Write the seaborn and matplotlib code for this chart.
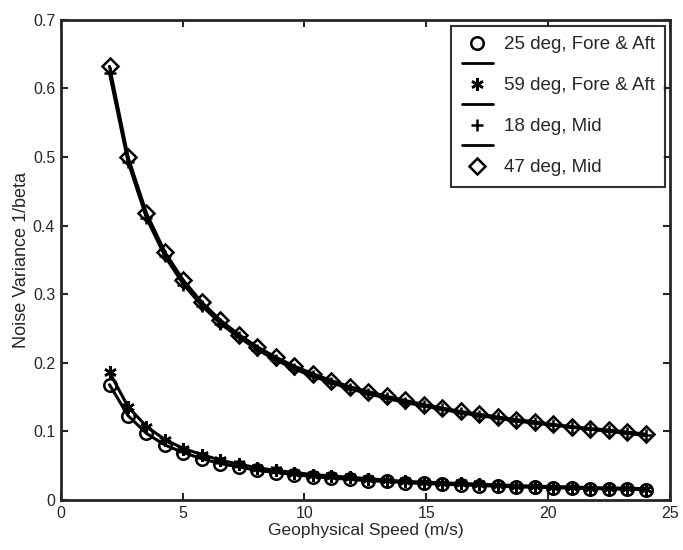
import numpy as np
import pandas as pd
import matplotlib
matplotlib.use("Agg")
import matplotlib.pyplot as plt
from matplotlib.lines import Line2D
import seaborn as sns

# speeds (m/s) where the noise variance was evaluated
speed = [2.000, 2.759, 3.517, 4.276, 5.034, 5.793, 6.552, 7.310, 8.069, 8.828,
         9.586, 10.345, 11.103, 11.862, 12.621, 13.379, 14.138, 14.897, 15.655, 16.414,
         17.172, 17.931, 18.690, 19.448, 20.207, 20.966, 21.724, 22.483, 23.241, 24.000]

fa25 = [0.168, 0.123, 0.097, 0.080, 0.069, 0.060, 0.053, 0.048, 0.043, 0.040,
        0.037, 0.034, 0.032, 0.030, 0.028, 0.027, 0.025, 0.024, 0.023, 0.022,
        0.021, 0.020, 0.019, 0.0185, 0.018, 0.017, 0.0166, 0.016, 0.0156, 0.015]
fa59 = [0.186, 0.136, 0.107, 0.088, 0.075, 0.066, 0.058, 0.052, 0.047, 0.043,
        0.040, 0.037, 0.035, 0.033, 0.031, 0.029, 0.027, 0.026, 0.025, 0.024,
        0.023, 0.022, 0.021, 0.020, 0.0195, 0.019, 0.018, 0.0175, 0.017, 0.0165]
mid18 = [0.622, 0.493, 0.411, 0.355, 0.314, 0.283, 0.257, 0.237, 0.219, 0.204,
         0.191, 0.180, 0.171, 0.162, 0.155, 0.148, 0.142, 0.137, 0.132, 0.127,
         0.123, 0.119, 0.115, 0.112, 0.109, 0.106, 0.103, 0.100, 0.097, 0.094]
mid47 = [0.632, 0.500, 0.418, 0.361, 0.320, 0.288, 0.262, 0.241, 0.223, 0.208,
         0.195, 0.184, 0.174, 0.165, 0.158, 0.151, 0.145, 0.139, 0.134, 0.129,
         0.125, 0.121, 0.117, 0.114, 0.110, 0.107, 0.104, 0.102, 0.099, 0.096]

labels = ["25 deg, Fore & Aft", "59 deg, Fore & Aft", "18 deg, Mid", "47 deg, Mid"]
series = [fa25, fa59, mid18, mid47]
asterisk = (6, 2, 0)
markers = ["o", asterisk, "+", "D"]
msizes = [9, 9, 9, 8]

sns.set_style("ticks")
plt.rcParams['font.family'] = ['Liberation Sans', 'DejaVu Sans']

fig = plt.figure(figsize=(6.83, 5.5), dpi=100)
ax = fig.add_axes([0.089, 0.091, 0.892, 0.873])

for vals, mk, ms in zip(series, markers, msizes):
    df = pd.DataFrame({"speed": speed, "var": vals})
    sns.lineplot(data=df, x="speed", y="var", ax=ax, color="k", lw=2.2,
                 marker=mk, markersize=ms, markerfacecolor="none",
                 markeredgecolor="k", markeredgewidth=1.8)

ax.set_xlim(0, 25)
ax.set_ylim(0, 0.7)
ax.set_xticks([0, 5, 10, 15, 20, 25])
ax.set_yticks(np.arange(0, 0.71, 0.1))
ax.set_yticklabels(["0", "0.1", "0.2", "0.3", "0.4", "0.5", "0.6", "0.7"])
ax.tick_params(direction="in", top=True, right=True, length=5, width=1.5,
               labelsize=11.5, pad=4)
for s in ax.spines.values():
    s.set_linewidth(2)
ax.set_xlabel("Geophysical Speed (m/s)", fontsize=12.5, labelpad=2)
ax.set_ylabel("Noise Variance 1/beta", fontsize=13, labelpad=2)

# MATLAB-style legend: marker entry then a bare line entry
handles, hlabels = [], []
for i, (lab, mk, ms) in enumerate(zip(labels, markers, msizes)):
    handles.append(Line2D([], [], ls="none", marker=mk, markersize=ms,
                          markerfacecolor="none", markeredgecolor="k",
                          markeredgewidth=1.8, color="k"))
    hlabels.append(lab)
    if i < 3:
        handles.append(Line2D([], [], color="k", lw=2))
        hlabels.append("")
leg = ax.legend(handles, hlabels, loc="upper right",
                bbox_to_anchor=(0.9737, 0.9527), bbox_transform=fig.transFigure,
                fontsize=13.5, frameon=True, fancybox=False, handlelength=1.7,
                labelspacing=0.18, borderpad=0.55, handletextpad=0.55,
                borderaxespad=0)
leg.get_frame().set_edgecolor("k")
leg.get_frame().set_linewidth(1.5)

fig.savefig("out.png", dpi=100)
